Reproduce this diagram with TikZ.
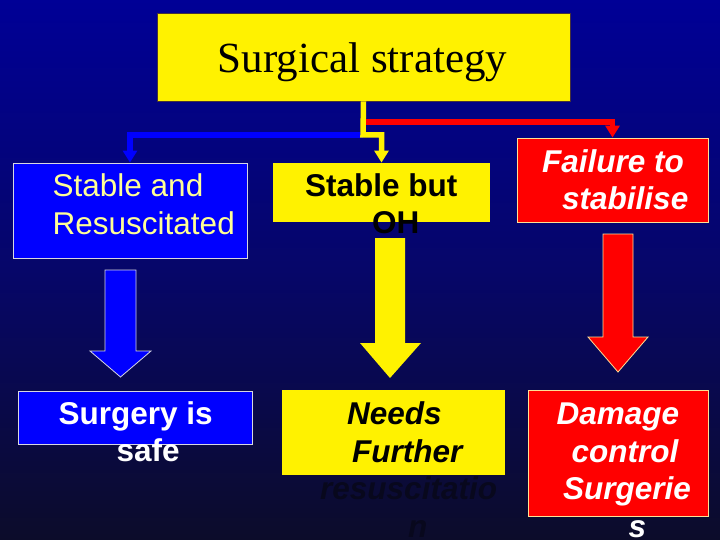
\documentclass[tikz,border=0pt]{standalone}
\usepackage{fontspec}
\setmainfont{Liberation Serif}
\setsansfont{Liberation Sans}
\usepackage{xcolor}
\usepackage{tikz}
\usetikzlibrary{arrows.meta}
\definecolor{slidetop}{RGB}{0,0,150}
\definecolor{slidemid}{RGB}{6,6,105}
\definecolor{slidebot}{RGB}{12,12,42}
\definecolor{paleyellow}{RGB}{255,255,150}
\definecolor{rimyellow}{RGB}{255,225,150}
\definecolor{rimblue}{RGB}{215,215,225}
\definecolor{titlerim}{RGB}{70,50,60}
\newcommand\slidefont{\sffamily\fontsize{31.5}{37.5}\selectfont}

\begin{document}
\begin{tikzpicture}[x=1pt, y=-1pt,
    box/.style={line width=0.8pt, inner sep=0pt},
    bluebox/.style={box, fill=blue, draw=rimblue},
    yellowbox/.style={box, fill=yellow},
    redbox/.style={box, fill=red, draw=rimyellow},
    txt/.style={font=\slidefont, align=left, anchor=base west, inner sep=0pt},
    link/.style={line width=5.5pt, -{Triangle[width=14pt, length=12pt]}},
    bigarrow/.style={line width=0.8pt, line join=miter}
  ]
  % Slide background
  \useasboundingbox (0,0) rectangle (720,540);
  \shade[top color=slidetop, bottom color=slidebot, middle color=slidemid] (0,0) rectangle (720,540);
  % Title
  \node[box, fill=yellow, draw=titlerim, minimum width=413pt, minimum height=88pt] (title) at (363.5,57) {};
  \node[anchor=base, inner sep=0pt, font=\fontsize{43}{50}\selectfont] (title-txt) at (362.5,73) {Surgical strategy};
  % Upper row (text placed by its last baseline)
  \node[bluebox, minimum width=234pt, minimum height=95pt] (stabres) at (130,210.5) {};
  \node[txt, text=paleyellow] (stabres-txt) at (52.5,234) {Stable and\\Resuscitated};
  \node[yellowbox, minimum width=217pt, minimum height=59pt] (stabbut) at (381.5,192.5) {};
  \node[txt, font=\slidefont\bfseries] (stabbut-txt) at (305,233.5) {Stable but\\\hspace*{67pt}OH};
  \node[redbox, minimum width=191pt, minimum height=84pt] (failure) at (612.5,180) {};
  \node[txt, text=white, font=\slidefont\bfseries\itshape] (failure-txt) at (542,210) {Failure to\\\hspace*{20pt}stabilise};
  % Lower row
  \node[bluebox, minimum width=234pt, minimum height=53pt] (surgsafe) at (135,417.5) {};
  \node[txt, text=white, font=\slidefont\bfseries] (surgsafe-txt) at (58.5,461.5) {Surgery is\\\hspace*{58pt}safe};
  \node[yellowbox, minimum width=223pt, minimum height=85pt] (needs) at (393.5,432.5) {};
  \node[txt, font=\slidefont\bfseries\itshape] (needs-txt) at (320,537)
    {\hspace*{27pt}Needs\\\hspace*{32pt}Further\\\textcolor{slidebot!70!black}{resuscitatio}\\\hspace*{88pt}\textcolor{slidebot!70!black}{n}};
  \node[redbox, minimum width=180pt, minimum height=126pt] (damage) at (618,453) {};
  \node[txt, text=white, font=\slidefont\bfseries\itshape] (damage-txt) at (556.5,537)
    {Damage\\\hspace*{15pt}control\\\hspace*{6.5pt}Surgerie\\\hspace*{72pt}s};
  % Branches from the title
  \coordinate (fork) at (363,135);
  \coordinate (redfork) at (363,122);
  \draw[link, blue] (fork) -| (stabres.north);
  \draw[link, red] (redfork) -| (failure.north);
  \draw[link, yellow] (title.south) -- (fork) -| (stabbut.north);
  % Block arrows between the rows
  \draw[bigarrow, fill=blue, draw=rimblue] (105,270) -- (136,270) -- (136,351) -- (151,351)
    -- (120.5,377) -- (90,351) -- (105,351) -- cycle;
  \fill[yellow] (375,238) -- (405,238) -- (405,343) -- (421,343)
    -- (390,378) -- (360,343) -- (375,343) -- cycle;
  \draw[bigarrow, fill=red, draw=rimyellow] (603,234) -- (633,234) -- (633,337) -- (648,337)
    -- (618,372) -- (588,337) -- (603,337) -- cycle;
\end{tikzpicture}
\end{document}
